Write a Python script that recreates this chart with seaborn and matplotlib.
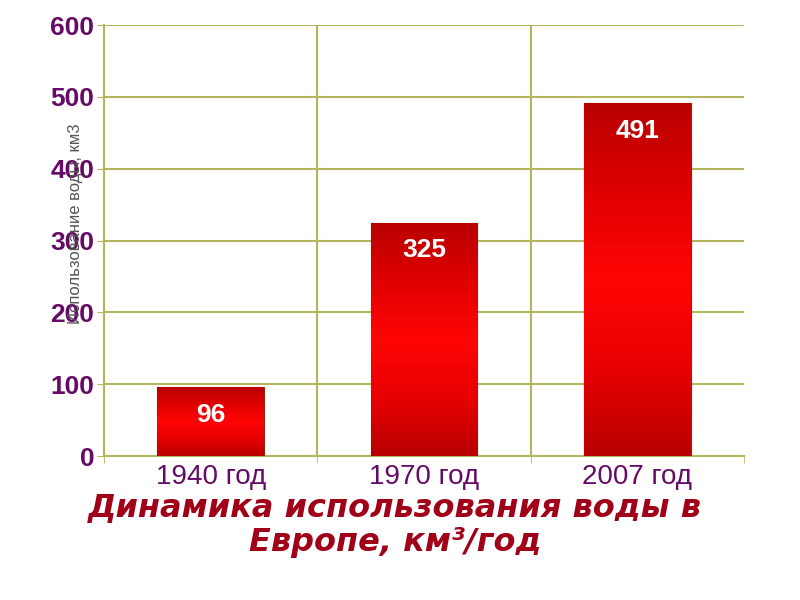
import numpy as np
import pandas as pd
import matplotlib
matplotlib.use("Agg")
import matplotlib.pyplot as plt
from matplotlib.colors import LinearSegmentedColormap
import seaborn as sns

# данные
years = ["1940 год", "1970 год", "2007 год"]
water_use = [96, 325, 491]
y_ticks = [0, 100, 200, 300, 400, 500, 600]

grid_color = "#b5b55e"
tick_color = "#650a66"
title_color = "#a00018"

sns.set_style("white")
plt.rcParams["font.family"] = ["Liberation Sans", "DejaVu Sans"]

df = pd.DataFrame({"year": years, "value": water_use})

fig = plt.figure(figsize=(8, 6), dpi=100)
ax = fig.add_axes([0.13, 0.24, 0.8, 0.718])

sns.barplot(data=df, x="year", y="value", color="#e00000", width=0.5,
            edgecolor="#8a2a10", linewidth=0.8, ax=ax, zorder=3)

# вертикальный градиент в столбцах: тёмный - яркий - тёмный
grad_cmap = LinearSegmentedColormap.from_list(
    "bar_grad", ["#b80000", "#e80000", "#ff0505", "#e00000", "#b80000"])
grad = np.linspace(0, 1, 256).reshape(-1, 1)
for patch in ax.patches:
    x0, y0 = patch.get_x(), patch.get_y()
    w, h = patch.get_width(), patch.get_height()
    im = ax.imshow(grad, cmap=grad_cmap, aspect="auto", origin="lower",
                   extent=[x0, x0 + w, y0, y0 + h], zorder=3.5)
    im.set_clip_path(patch)

ax.set_xlim(-0.5, 2.5)
ax.set_ylim(0, 600)

# подписи значений
for i, v in enumerate(water_use):
    ax.annotate(str(v), xy=(i, v), xytext=(0, -20), textcoords="offset points",
                ha="center", va="center", color="white", fontsize=19,
                fontweight="bold", zorder=5)

# сетка (без линии справа)
ax.set_yticks(y_ticks)
ax.set_xticks([-0.5, 0.5, 1.5, 2.5], minor=True)
ax.grid(axis="y", color=grid_color, linewidth=1.5, zorder=0)
for xb in [0.5, 1.5]:
    ax.axvline(xb, color=grid_color, linewidth=1.5, zorder=0)
ax.set_axisbelow(True)

for side in ["top", "right"]:
    ax.spines[side].set_visible(False)
for side in ["left", "bottom"]:
    ax.spines[side].set_color(grid_color)
    ax.spines[side].set_linewidth(1.5)

ax.tick_params(axis="y", which="major", left=True, length=5, color=grid_color,
               labelsize=19, labelcolor=tick_color, pad=2)
for lbl in ax.get_yticklabels():
    lbl.set_fontweight("bold")
ax.tick_params(axis="x", which="major", length=0, labelsize=20,
               labelcolor=tick_color, pad=6)
ax.tick_params(axis="x", which="minor", bottom=True, length=5, color=grid_color)

ax.set_xlabel("")
ax.set_ylabel("Использование воды, км3", fontsize=12, color="#555555")
ax.yaxis.label.set_verticalalignment("center")
ax.yaxis.set_label_coords(-0.045, 0.54)

fig.text(0.494, 0.125, "Динамика использования воды в\nЕвропе, км³/год",
         ha="center", va="center", fontsize=23, fontweight="bold",
         fontstyle="italic", color=title_color, linespacing=1.15,
         family=["DejaVu Sans"])

fig.savefig("out.png", dpi=100)
